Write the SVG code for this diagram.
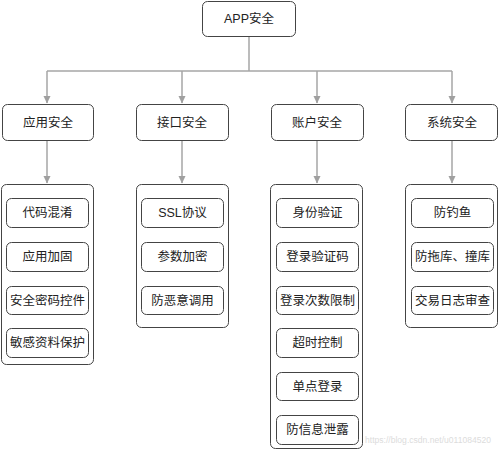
<svg xmlns="http://www.w3.org/2000/svg" width="499" height="450" viewBox="0 0 499 450">
<style>
.box{fill:#fff;stroke:#444;stroke-width:1}
.t{font-family:"Liberation Sans","Noto Sans CJK SC",sans-serif;font-size:12.5px;fill:#222;text-anchor:middle;dominant-baseline:central}
.c{fill:none;stroke:#a6a6a6;stroke-width:1.5}
.wm{font-family:"Liberation Sans",sans-serif;font-size:8.5px;fill:#dcdcdc}
</style>
<defs>
<marker id="ah" markerWidth="8" markerHeight="8" refX="7" refY="4" orient="auto" markerUnits="userSpaceOnUse">
<path d="M0,0.5 L7.5,4 L0,7.5 Z" fill="#a0a0a0"/>
</marker>
</defs>
<rect width="499" height="450" fill="#fff"/>
<g id="connectors">
<path class="c" d="M249,37 V71"/>
<path class="c" d="M47,71 H452"/>
<path class="c" d="M47,71 V103" marker-end="url(#ah)"/>
<path class="c" d="M182,71 V103" marker-end="url(#ah)"/>
<path class="c" d="M317,71 V103" marker-end="url(#ah)"/>
<path class="c" d="M452,71 V103" marker-end="url(#ah)"/>
<path class="c" d="M47,141 V183" marker-end="url(#ah)"/>
<path class="c" d="M182,141 V183" marker-end="url(#ah)"/>
<path class="c" d="M317,141 V183" marker-end="url(#ah)"/>
<path class="c" d="M452,141 V183" marker-end="url(#ah)"/>
</g>
<g id="n-app"><rect class="box" x="202.5" y="1.5" width="93" height="35" rx="5"/><text class="t" x="249" y="19">APP安全</text></g>
<g id="n-yingyong"><rect class="box" x="2.5" y="104.5" width="91" height="36" rx="5"/><text class="t" x="48" y="123">应用安全</text></g>
<g id="n-jiekou"><rect class="box" x="136.5" y="104.5" width="92" height="36" rx="5"/><text class="t" x="182" y="123">接口安全</text></g>
<g id="n-zhanghu"><rect class="box" x="271.5" y="104.5" width="92" height="36" rx="5"/><text class="t" x="317" y="123">账户安全</text></g>
<g id="n-xitong"><rect class="box" x="405.5" y="104.5" width="92" height="36" rx="5"/><text class="t" x="452" y="123">系统安全</text></g>

<g id="g-yingyong">
<rect class="box" x="1.5" y="184.5" width="92" height="180" rx="5"/>
<g id="n-a1"><rect class="box" x="6.5" y="198.5" width="82" height="29" rx="5"/><text class="t" x="47.5" y="213">代码混淆</text></g>
<g id="n-a2"><rect class="box" x="6.5" y="242.5" width="82" height="29" rx="5"/><text class="t" x="47.5" y="257">应用加固</text></g>
<g id="n-a3"><rect class="box" x="6.5" y="286.5" width="82" height="28" rx="5"/><text class="t" x="47.5" y="300.5">安全密码控件</text></g>
<g id="n-a4"><rect class="box" x="6.5" y="328.5" width="82" height="29" rx="5"/><text class="t" x="47.5" y="343">敏感资料保护</text></g>
</g>

<g id="g-jiekou">
<rect class="box" x="136.5" y="184.5" width="92" height="143" rx="5"/>
<g id="n-b1"><rect class="box" x="141.5" y="198.5" width="82" height="29" rx="5"/><text class="t" x="182.5" y="213">SSL协议</text></g>
<g id="n-b2"><rect class="box" x="141.5" y="242.5" width="82" height="29" rx="5"/><text class="t" x="182.5" y="257">参数加密</text></g>
<g id="n-b3"><rect class="box" x="141.5" y="286.5" width="82" height="28" rx="5"/><text class="t" x="182.5" y="300.5">防恶意调用</text></g>
</g>

<g id="g-zhanghu">
<rect class="box" x="270.5" y="184.5" width="92" height="264" rx="5"/>
<g id="n-c1"><rect class="box" x="276.5" y="198.5" width="82" height="29" rx="5"/><text class="t" x="317.5" y="213">身份验证</text></g>
<g id="n-c2"><rect class="box" x="276.5" y="242.5" width="82" height="29" rx="5"/><text class="t" x="317.5" y="257">登录验证码</text></g>
<g id="n-c3"><rect class="box" x="276.5" y="286.5" width="82" height="28" rx="5"/><text class="t" x="317.5" y="300.5">登录次数限制</text></g>
<g id="n-c4"><rect class="box" x="276.5" y="328.5" width="82" height="29" rx="5"/><text class="t" x="317.5" y="343">超时控制</text></g>
<g id="n-c5"><rect class="box" x="276.5" y="372.5" width="82" height="28" rx="5"/><text class="t" x="317.5" y="386.5">单点登录</text></g>
<g id="n-c6"><rect class="box" x="276.5" y="415.5" width="82" height="29" rx="5"/><text class="t" x="317.5" y="430">防信息泄露</text></g>
</g>

<text class="wm" x="365" y="443" textLength="126" lengthAdjust="spacingAndGlyphs">https://blog.csdn.net/u011084520</text>
<g id="g-xitong">
<rect class="box" x="405.5" y="184.5" width="92" height="143" rx="5"/>
<g id="n-d1"><rect class="box" x="411.5" y="198.5" width="82" height="29" rx="5"/><text class="t" x="452.5" y="213">防钓鱼</text></g>
<g id="n-d2"><rect class="box" x="411.5" y="242.5" width="82" height="29" rx="5"/><text class="t" x="452.5" y="257">防拖库、撞库</text></g>
<g id="n-d3"><rect class="box" x="411.5" y="286.5" width="82" height="28" rx="5"/><text class="t" x="452.5" y="300.5">交易日志审查</text></g>
</g>
</svg>
